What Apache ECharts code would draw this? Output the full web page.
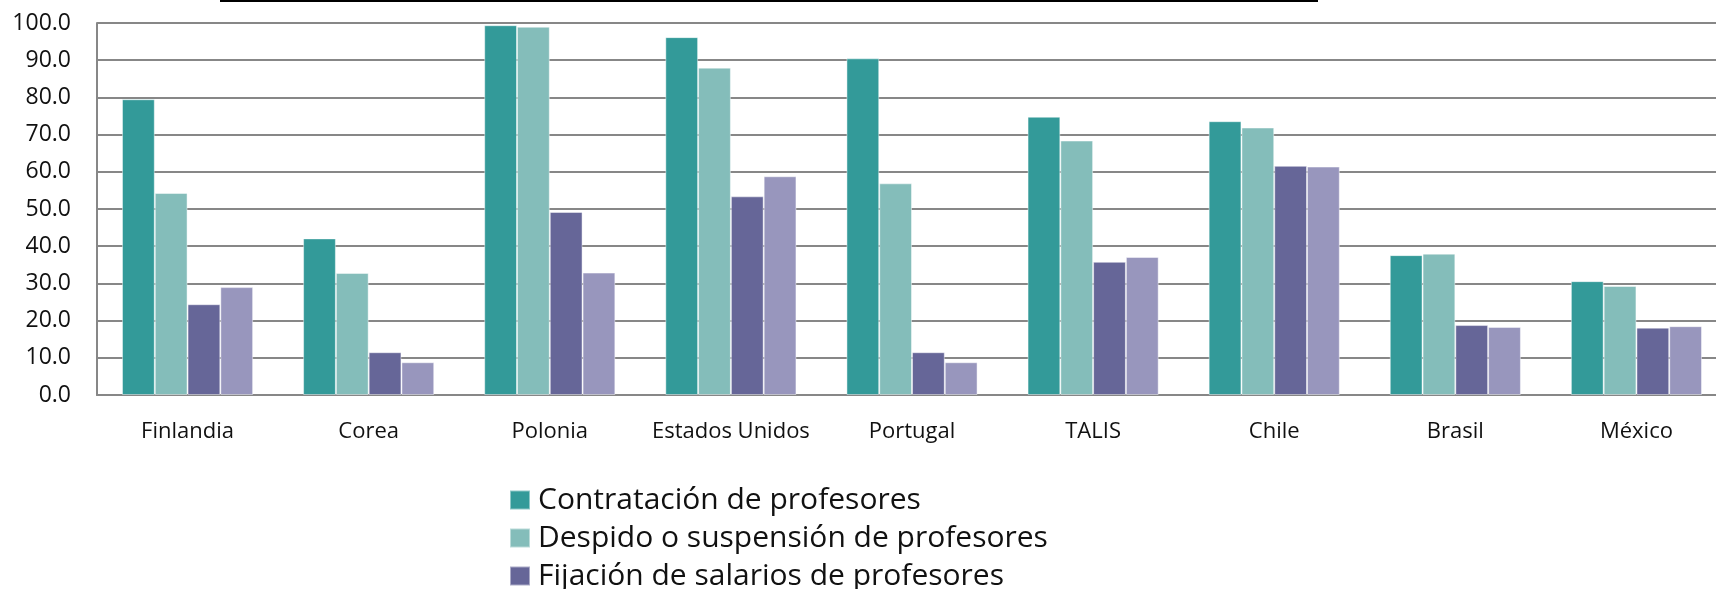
<!DOCTYPE html>
<html>
<head>
<meta charset="utf-8">
<script src="https://cdn.jsdelivr.net/npm/echarts@6/dist/echarts.min.js"></script>
<style>
  html, body { margin: 0; padding: 0; background: #fff; }
  #chart { width: 1716px; height: 589px; }
</style>
</head>
<body>
<div id="chart"></div>
<script>
const countries = ['Finlandia', 'Corea', 'Polonia', 'Estados Unidos', 'Portugal', 'TALIS', 'Chile', 'Brasil', 'México'];
const seriesNames = [
    'Contratación de profesores',
    'Despido o suspensión de profesores',
    'Fijación de salarios de profesores',
    'Determinación de aumentos salariales de profesores'
];
const contratacion = [79.5, 42.1, 99.4, 96.2, 90.5, 74.8, 73.6, 37.6, 30.6];
const despido = [54.3, 32.8, 99.0, 88.0, 56.9, 68.4, 71.9, 38.0, 29.3];
const salarios = [24.4, 11.5, 49.2, 53.4, 11.5, 35.8, 61.6, 18.8, 18.1];
const aumentos = [29.0, 8.8, 32.9, 58.8, 8.8, 37.1, 61.4, 18.3, 18.5];
const yTicks = { min: 0, max: 100, interval: 10 };

const colors = ['#339a99', '#84bdba', '#666698', '#9896bd'];
const values = [contratacion, despido, salarios, aumentos];
const font = '"Open Sans", sans-serif';

const chart = echarts.init(document.getElementById('chart'));

const option = {
    backgroundColor: '#ffffff',
    animation: false,
    color: colors,
    // plot runs a little past the right edge, like the cropped original
    grid: { left: 97, width: 1630, top: 23, bottom: 194, outerBoundsMode: 'none', containLabel: false },
    legend: {
        orient: 'vertical',
        left: 509,
        top: 485,
        height: 300,
        padding: 0,
        itemWidth: 20,
        itemHeight: 19,
        itemGap: 8,
        icon: 'rect',
        // the 4th entry sits below the visible area, as in the reference
        data: seriesNames,
        textStyle: { fontFamily: font, fontSize: 30, color: '#111', padding: [0, 0, 0, 3] }
    },
    graphic: [{
        type: 'line',
        shape: { x1: 220, y1: 1, x2: 1318, y2: 1 },
        style: { stroke: '#000', lineWidth: 2 }
    }],
    xAxis: {
        type: 'category',
        data: countries,
        axisLine: { lineStyle: { color: '#878787', width: 2 } },
        axisTick: { show: false },
        axisLabel: { fontFamily: font, fontSize: 22, color: '#111', margin: 26, interval: 0 }
    },
    yAxis: {
        type: 'value',
        min: yTicks.min,
        max: yTicks.max,
        interval: yTicks.interval,
        axisLine: { show: true, lineStyle: { color: '#878787', width: 2 } },
        axisTick: { show: false },
        splitLine: { lineStyle: { color: '#878787', width: 2 } },
        axisLabel: {
            fontFamily: font, fontSize: 23, color: '#111', margin: 26,
            formatter: v => v.toFixed(1)
        }
    },
    series: seriesNames.map((name, i) => ({
        name: name,
        type: 'bar',
        data: values[i],
        barGap: '0%',
        barCategoryGap: '27.6%',
        itemStyle: { color: colors[i], borderColor: 'rgba(255,255,255,0.45)', borderWidth: 1 }
    }))
};

chart.setOption(option);
</script>
</body>
</html>
